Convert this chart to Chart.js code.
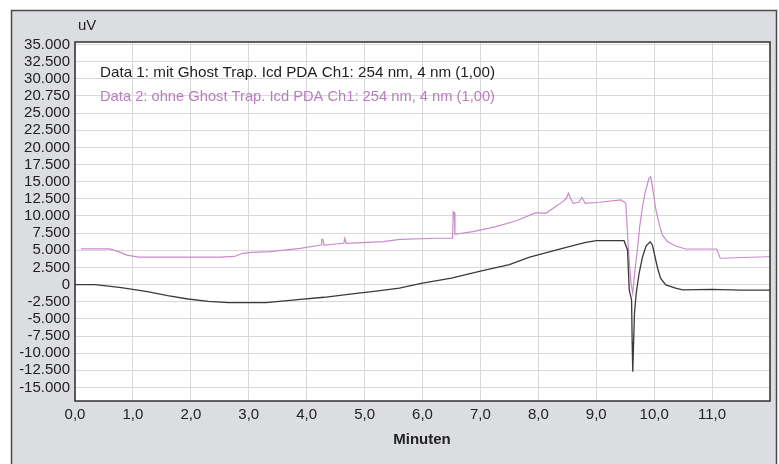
<!DOCTYPE html>
<html>
<head>
<meta charset="utf-8">
<script src="https://cdn.jsdelivr.net/npm/chart.js@4/dist/chart.umd.min.js"></script>
<style>
  html, body { margin: 0; padding: 0; background: #ffffff; }
  #wrap { width: 779px; height: 464px; }
</style>
</head>
<body>
<div id="wrap"><canvas id="c" width="779" height="464"></canvas></div>
<script>
// ---- data ----
const seriesNames = [
  "Data 1: mit Ghost Trap. Icd PDA Ch1: 254 nm, 4 nm (1,00)",
  "Data 2: ohne Ghost Trap. Icd PDA Ch1: 254 nm, 4 nm (1,00)"
];
const yAxisUnit = "uV";
const xAxisTitle = "Minuten";

const time1 = [0, 0.35, 0.8, 1.25, 1.6, 1.95, 2.3, 2.65, 3.3, 3.8, 4.3, 4.75, 5.2, 5.6, 6.0, 6.5, 7.0, 7.5, 7.85, 8.4, 8.8, 9.0, 9.48, 9.54, 9.57, 9.61, 9.62, 9.63, 9.66, 9.69, 9.74, 9.8, 9.86, 9.93, 9.97, 10.02, 10.06, 10.11, 10.2, 10.37, 10.49, 11.0, 11.5, 12.0];
const data1 = [0, 0, -450, -1030, -1620, -2100, -2450, -2640, -2640, -2230, -1850, -1400, -950, -530, 200, 930, 1950, 2900, 3990, 5250, 6100, 6400, 6400, 5040, -800, -2250, -8300, -12700, -4200, -1270, 1650, 4060, 5620, 6250, 5770, 3840, 2380, 920, -50, -530, -770, -700, -800, -800];

const time2 = [0.1, 0.6, 0.75, 0.9, 1.1, 2.5, 2.75, 2.9, 3.05, 3.37, 3.89, 4.25, 4.26, 4.28, 4.3, 4.64, 4.66, 4.68, 5.32, 5.61, 6.25, 6.5, 6.52, 6.53, 6.55, 6.56, 6.87, 7.27, 7.62, 7.96, 8.13, 8.28, 8.42, 8.48, 8.52, 8.56, 8.6, 8.7, 8.75, 8.81, 9.05, 9.43, 9.51, 9.56, 9.6, 9.63, 9.67, 9.71, 9.75, 9.8, 9.84, 9.91, 9.94, 9.97, 10.03, 10.09, 10.14, 10.23, 10.37, 10.54, 11.08, 11.14, 11.95, 12.0];
const data2 = [5200, 5200, 4800, 4300, 4000, 4000, 4100, 4560, 4700, 4800, 5290, 5770, 6600, 6600, 5770, 6020, 6750, 6020, 6260, 6600, 6750, 6750, 6750, 10630, 10500, 7330, 7710, 8440, 9310, 10480, 10390, 11270, 12090, 12500, 13310, 12500, 11850, 12000, 12720, 11850, 12000, 12330, 11850, 4560, 190, -1270, 2190, 5040, 8440, 11360, 13310, 15500, 15730, 14270, 10870, 8690, 7230, 6250, 5620, 5190, 5190, 3840, 4060, 4060];

const yTickValues = [35000, 32500, 30000, 27500, 25000, 22500, 20000, 17500, 15000, 12500, 10000, 7500, 5000, 2500, 0, -2500, -5000, -7500, -10000, -12500, -15000];
const yTickLabels = ["35.000", "32.500", "30.000", "20.750", "25.000", "22.500", "20.000", "17.500", "15.000", "12.500", "10.000", "7.500", "5.000", "2.500", "0", "-2.500", "-5.000", "-7.500", "-10.000", "-12.500", "-15.000"];
const xTickValues = [0, 1, 2, 3, 4, 5, 6, 7, 8, 9, 10, 11];
const xTickLabels = ["0,0", "1,0", "2,0", "3,0", "4,0", "5,0", "6,0", "7,0", "8,0", "9,0", "10,0", "11,0"];

// ---- styles ----
const COL1 = "#3a3a3a";
const COL2 = "#c98bcb";
const COL2TEXT = "#b97cc0";
const FONT = "'Liberation Sans', Arial, sans-serif";

const decor = {
  id: "decor",
  beforeDraw(chart) {
    const ctx = chart.ctx, a = chart.chartArea;
    ctx.save();
    ctx.fillStyle = "#ffffff";
    ctx.fillRect(0, 0, chart.width, chart.height);
    ctx.fillStyle = "#dcdde0";
    ctx.fillRect(11, 10, 765, 460);
    ctx.strokeStyle = "#4b4b4b";
    ctx.lineWidth = 1.5;
    ctx.strokeRect(11.5, 10.5, 765, 470);
    ctx.fillStyle = "#ffffff";
    ctx.fillRect(a.left, a.top, a.right - a.left, a.bottom - a.top);
    ctx.restore();
  },
  afterDraw(chart) {
    const ctx = chart.ctx, a = chart.chartArea;
    ctx.save();
    ctx.strokeStyle = "#2e2e2e";
    ctx.lineWidth = 1.5;
    ctx.strokeRect(a.left, a.top, a.right - a.left, a.bottom - a.top);
    ctx.fillStyle = "#222";
    ctx.font = "15px " + FONT;
    ctx.textAlign = "left";
    ctx.textBaseline = "middle";
    ctx.fillText(yAxisUnit, 78, 26);
    // legend lines, horizontally condensed
    const target = 395;
    ctx.font = "15px " + FONT;
    [[seriesNames[0], "#1e1e1e", 73], [seriesNames[1], COL2TEXT, 97]].forEach(([t, c, y]) => {
      const w = ctx.measureText(t).width;
      const sx = target / w;
      ctx.save();
      ctx.translate(100, y);
      ctx.scale(sx, 1);
      ctx.fillStyle = c;
      ctx.fillText(t, 0, 0);
      ctx.restore();
    });
    ctx.font = "bold 15px " + FONT;
    ctx.fillStyle = "#222";
    ctx.textAlign = "center";
    ctx.fillText(xAxisTitle, 422, 440);
    ctx.restore();
  }
};

const pts = (t, v) => t.map((x, i) => ({ x: x, y: v[i] }));

new Chart(document.getElementById("c"), {
  type: "line",
  data: {
    datasets: [
      { label: seriesNames[0], data: pts(time1, data1), borderColor: COL1, borderWidth: 1.3, pointRadius: 0, tension: 0 },
      { label: seriesNames[1], data: pts(time2, data2), borderColor: COL2, borderWidth: 1.2, pointRadius: 0, tension: 0 }
    ]
  },
  options: {
    responsive: false,
    animation: false,
    events: [],
    layout: { padding: { top: 42, right: 9, left: 0, bottom: 0 } },
    plugins: { legend: { display: false }, tooltip: { enabled: false }, title: { display: false } },
    scales: {
      x: {
        type: "linear", min: 0, max: 12,
        afterBuildTicks: s => { s.ticks = xTickValues.map(v => ({ value: v })); },
        afterFit: s => { s.height = 63; },
        border: { display: false },
        grid: { color: "#d8d8d8", lineWidth: 1, drawTicks: false },
        ticks: { autoSkip: false, maxRotation: 0, padding: 5, color: "#222", font: { family: FONT, size: 15 },
                 callback: (v, i) => xTickLabels[i] }
      },
      y: {
        type: "linear", min: -16970, max: 35360,
        afterBuildTicks: s => { s.ticks = yTickValues.map(v => ({ value: v })); },
        afterFit: s => { s.width = 75; },
        border: { display: false },
        grid: { color: "#d8d8d8", lineWidth: 1, drawTicks: false },
        ticks: { autoSkip: false, padding: 5, color: "#222", font: { family: FONT, size: 15 },
                 callback: (v, i) => yTickLabels[i] }
      }
    }
  },
  plugins: [decor]
});
</script>
</body>
</html>
